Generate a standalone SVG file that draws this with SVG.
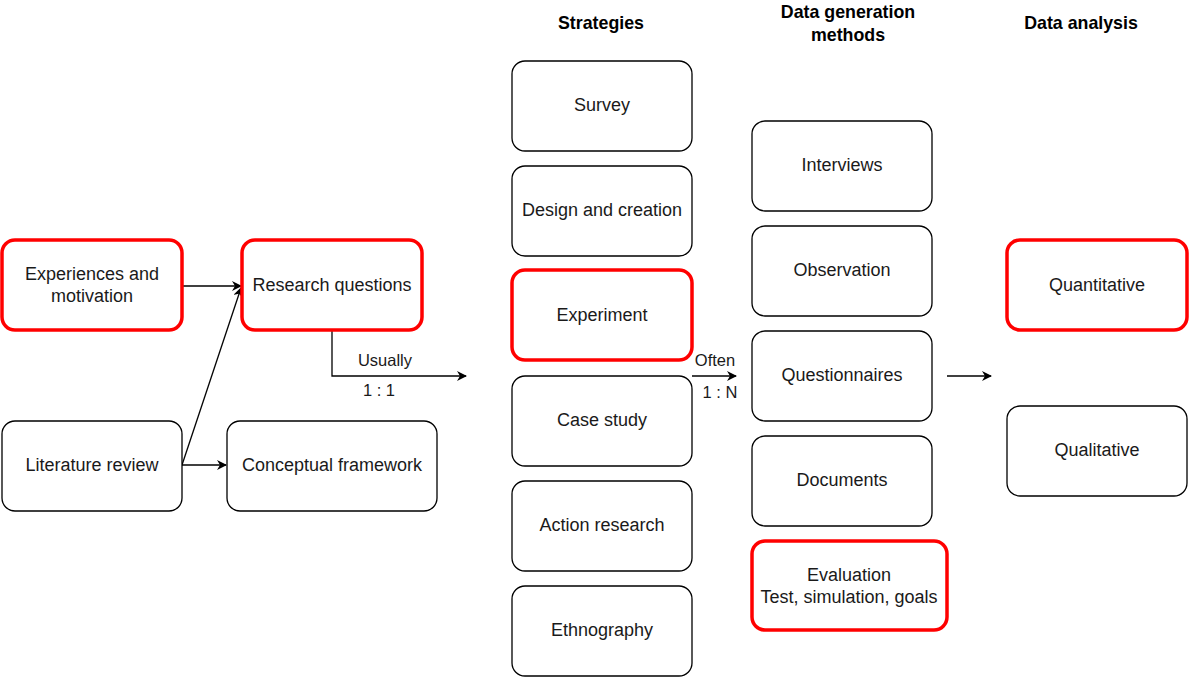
<svg xmlns="http://www.w3.org/2000/svg" width="1190" height="677" viewBox="0 0 1190 677">
<defs>
<style>
.n{fill:#fff;stroke:#000;stroke-width:1.3}
.r{fill:#fff;stroke:#ff0000;stroke-width:3.5}
text{font-family:"Liberation Sans",Arial,sans-serif;fill:#1a1a1a}
.t{font-size:18px;text-anchor:middle;dominant-baseline:central}
.h{font-size:17.8px;font-weight:bold;text-anchor:middle;fill:#000}
.l{font-size:16.5px;text-anchor:middle}
.c{fill:none;stroke:#000;stroke-width:1.3}
</style>
<marker id="a" viewBox="0 0 10 10" refX="9" refY="5" markerWidth="10" markerHeight="10" markerUnits="userSpaceOnUse" orient="auto"><path d="M0,0 L10,5 L0,10 L3,5 z" fill="#000"/></marker>
</defs>
<rect width="1190" height="677" fill="#fff"/>
<g id="headers">
<text class="h" x="601" y="29">Strategies</text>
<text class="h" x="848" y="18">Data generation</text>
<text class="h" x="848" y="41">methods</text>
<text class="h" x="1081" y="29">Data analysis</text>
</g>
<g id="connectors">
<path class="c" d="M182,286 L241,286" marker-end="url(#a)"/>
<path class="c" d="M182,465 L241,288" marker-end="url(#a)"/>
<path class="c" d="M182,465 L226,465" marker-end="url(#a)"/>
<path class="c" d="M332,331 L332,376 L466,376" marker-end="url(#a)"/>
<path class="c" d="M692,376 L736,376" marker-end="url(#a)"/>
<path class="c" d="M947,376 L991,376" marker-end="url(#a)"/>
<text class="l" x="385" y="366">Usually</text>
<text class="l" x="379" y="396">1 : 1</text>
<text class="l" x="715" y="366">Often</text>
<text class="l" x="720" y="398">1 : N</text>
</g>
<g id="exp"><rect class="r" x="2" y="240" width="180" height="90" rx="13"/><text class="t" x="92" y="274">Experiences and</text><text class="t" x="92" y="296">motivation</text></g>
<g id="rq"><rect class="r" x="242" y="240" width="180" height="90" rx="13"/><text class="t" x="332" y="285">Research questions</text></g>
<g id="lit"><rect class="n" x="2" y="421" width="180" height="90" rx="13"/><text class="t" x="92" y="465">Literature review</text></g>
<g id="cf"><rect class="n" x="227" y="421" width="210" height="90" rx="13"/><text class="t" x="332" y="465">Conceptual framework</text></g>
<g id="survey"><rect class="n" x="512" y="61" width="180" height="90" rx="13"/><text class="t" x="602" y="105">Survey</text></g>
<g id="design"><rect class="n" x="512" y="166" width="180" height="90" rx="13"/><text class="t" x="602" y="210">Design and creation</text></g>
<g id="experiment"><rect class="r" x="512" y="270" width="180" height="90" rx="13"/><text class="t" x="602" y="315">Experiment</text></g>
<g id="case"><rect class="n" x="512" y="376" width="180" height="90" rx="13"/><text class="t" x="602" y="420">Case study</text></g>
<g id="action"><rect class="n" x="512" y="481" width="180" height="90" rx="13"/><text class="t" x="602" y="525">Action research</text></g>
<g id="ethno"><rect class="n" x="512" y="586" width="180" height="90" rx="13"/><text class="t" x="602" y="630">Ethnography</text></g>
<g id="interviews"><rect class="n" x="752" y="121" width="180" height="90" rx="13"/><text class="t" x="842" y="165">Interviews</text></g>
<g id="observation"><rect class="n" x="752" y="226" width="180" height="90" rx="13"/><text class="t" x="842" y="270">Observation</text></g>
<g id="quest"><rect class="n" x="752" y="331" width="180" height="90" rx="13"/><text class="t" x="842" y="375">Questionnaires</text></g>
<g id="docs"><rect class="n" x="752" y="436" width="180" height="90" rx="13"/><text class="t" x="842" y="480">Documents</text></g>
<g id="eval"><rect class="r" x="752" y="541" width="195" height="89" rx="13"/><text class="t" x="849" y="575">Evaluation</text><text class="t" x="849" y="597">Test, simulation, goals</text></g>
<g id="quant"><rect class="r" x="1007" y="240" width="180" height="90" rx="13"/><text class="t" x="1097" y="285">Quantitative</text></g>
<g id="qual"><rect class="n" x="1007" y="406" width="180" height="90" rx="13"/><text class="t" x="1097" y="450">Qualitative</text></g>
</svg>
